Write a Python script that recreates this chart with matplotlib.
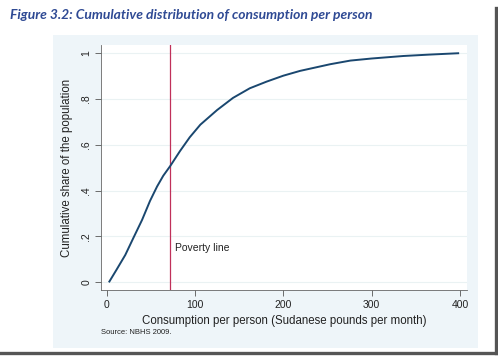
import matplotlib
matplotlib.use("Agg")
import matplotlib.pyplot as plt
from matplotlib.patches import Rectangle
from matplotlib.lines import Line2D

# values
consumption = [3, 11, 21, 30, 40, 49, 57, 64, 72, 83, 94, 106, 125, 143, 162, 181, 200,
               219, 253, 276, 300, 336, 365, 398]
cum_share = [0.003, 0.054, 0.119, 0.192, 0.272, 0.355, 0.418, 0.465, 0.508, 0.573, 0.633,
             0.688, 0.752, 0.805, 0.847, 0.876, 0.902, 0.923, 0.952, 0.968, 0.977, 0.988,
             0.994, 1.0]
poverty_line = 72
x_ticks = [0, 100, 200, 300, 400]
y_ticks = [0, 0.2, 0.4, 0.6, 0.8, 1.0]
y_tick_labels = ["0", ".2", ".4", ".6", ".8", "1"]

plt.rcParams['font.family'] = ['Liberation Sans', 'DejaVu Sans']

W, H = 498, 357
fig = plt.figure(figsize=(W / 100, H / 100), dpi=100)
fig.patch.set_facecolor('white')

# light blue graph region (Stata style)
fig.add_artist(Rectangle((53 / W, 1 - 348 / H), (478 - 53) / W, (348 - 35) / H,
                         transform=fig.transFigure, facecolor='#eef5f9',
                         edgecolor='none', zorder=0))

# shadow frame on right and bottom
fig.add_artist(Line2D([495.5 / W, 495.5 / W], [1 - 8 / H, 1 - 353 / H],
                      transform=fig.transFigure, color='#555555', lw=2.4))
fig.add_artist(Line2D([1 / W, 496 / W], [1 - 353 / H, 1 - 353 / H],
                      transform=fig.transFigure, color='#555555', lw=2.4))

ax = fig.add_axes([101 / W, 1 - 290 / H, (467 - 101) / W, (290 - 45) / H])
ax.set_facecolor('white')

ax.plot(consumption, cum_share, color='#1a476f', lw=1.4, zorder=3)
ax.axvline(poverty_line, color='#c0305a', lw=0.9, zorder=2)
ax.text(poverty_line + 5, 0.148, "Poverty line", fontsize=7.5, va='center', ha='left',
        color='#222222')

ax.set_xlim(-6.5, 408)
ax.set_ylim(-0.034, 1.036)
ax.set_xticks(x_ticks)
ax.set_yticks(y_ticks)
ax.set_yticklabels(y_tick_labels, rotation=90, va='center')
ax.tick_params(axis='both', labelsize=7.5, length=4, width=0.6, color='#555555',
               labelcolor='#222222', pad=3)

for y in y_ticks:
    ax.axhline(y, color='#eaf2f3', lw=0.8, zorder=1)

for s in ['top', 'right']:
    ax.spines[s].set_visible(False)
for s in ['left', 'bottom']:
    ax.spines[s].set_color('#666666')
    ax.spines[s].set_linewidth(0.6)

ax.set_xlabel("Consumption per person (Sudanese pounds per month)", fontsize=8.3,
              color='#222222', labelpad=4)
ax.set_ylabel("Cumulative share of the population", fontsize=8.3, color='#222222',
              labelpad=6)

fig.text(101 / W, 1 - 333 / H, "Source: NBHS 2009.", fontsize=5.5, va='center',
         ha='left', color='#222222')

fig.text(10 / W, 1 - 15 / H, "Figure 3.2: Cumulative distribution of consumption per person",
         fontsize=10, fontweight='bold', fontstyle='italic', family=['Lato', 'DejaVu Sans'],
         color='#2f4a94', va='center', ha='left')

fig.savefig('out.png', dpi=100, facecolor='white')
